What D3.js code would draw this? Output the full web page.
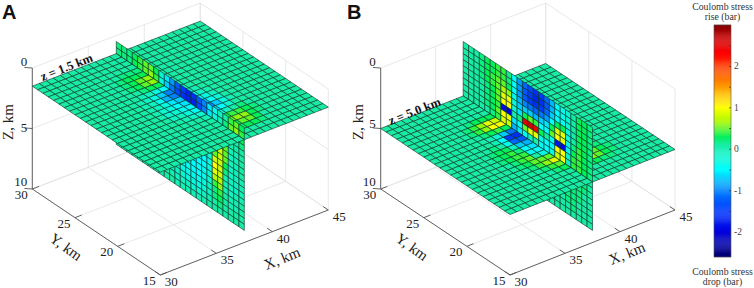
<!DOCTYPE html>
<html>
<head>
<meta charset="utf-8">
<script src="https://cdn.jsdelivr.net/npm/d3@7"></script>
<style>
html,body{margin:0;padding:0;background:#fff}
svg{display:block}
text{font-family:"Liberation Serif",serif;fill:#222}
</style>
</head>
<body>
<div id="chart"></div>
<script>
// ticks
var xTicks = [30, 35, 40, 45];
var yTicks = [30, 25, 20, 15];
var zTicks = [0, 5, 10];
var barLabels = [2, 1, 0, -1, -2];
var barMarks = [2.5, 2, 1.5, 1, 0.5, 0, -0.5, -1, -1.5, -2];

// stress in tenths of a bar.
// horizontal slices: one row per X cell (X = 30 -> 45), one column per Y cell (Y = 30 -> 15)
var sliceA = [
[1,1,1,1,1,1,1,1,1,1,1,1,1,1,1,1,1,1,1,1,1,1,1,1],
[1,1,1,1,1,1,1,1,1,1,1,1,1,1,1,1,1,1,1,1,1,1,1,1],
[1,1,1,1,1,1,1,1,1,1,1,1,1,1,1,1,1,1,1,1,1,1,1,1],
[1,1,1,1,1,1,1,1,1,1,1,1,1,1,1,1,1,1,1,1,1,1,1,1],
[1,1,1,1,1,1,1,1,1,1,1,1,1,1,1,1,1,1,1,1,1,1,1,1],
[1,1,1,1,1,1,1,1,1,1,1,1,1,1,1,1,1,1,1,1,1,1,1,1],
[1,1,1,1,1,1,1,1,1,1,1,1,1,1,1,1,1,1,1,1,1,1,1,1],
[1,1,1,1,1,1,1,1,1,1,0,0,0,0,0,1,1,1,1,1,1,1,1,1],
[1,1,1,1,1,2,2,2,1,0,-1,-1,-1,-2,-2,-1,1,1,1,1,1,1,1,1],
[1,1,1,1,2,3,3,3,2,-1,-3,-4,-3,-3,-2,-1,0,1,1,1,1,1,1,1],
[1,1,1,1,2,3,5,5,3,-3,-7,-8,-6,-5,-4,-3,-1,1,1,1,1,1,1,1],
[1,1,1,1,2,3,6,6,3,-5,-10,-10,-7,-6,-5,-4,-2,0,1,1,1,1,1,1],
[1,1,1,1,1,1,2,3,1,-2,-4,-5,-6,-7,-9,-9,-6,-1,3,3,2,1,1,1],
[1,1,1,1,1,1,1,1,1,1,0,-1,-3,-5,-8,-10,-7,-2,3,5,3,2,1,1],
[1,1,1,1,1,1,1,1,1,1,1,0,-1,-3,-5,-7,-5,-1,4,6,5,3,1,1],
[1,1,1,1,1,1,1,1,1,1,1,1,0,-1,-2,-3,-2,1,4,6,5,3,1,1],
[1,1,1,1,1,1,1,1,1,1,1,1,1,1,1,0,1,2,3,3,3,2,1,1],
[1,1,1,1,1,1,1,1,1,1,1,1,1,1,1,1,1,1,2,2,1,1,1,1],
[1,1,1,1,1,1,1,1,1,1,1,1,1,1,1,1,1,1,1,1,1,1,1,1],
[1,1,1,1,1,1,1,1,1,1,1,1,1,1,1,1,1,1,1,1,1,1,1,1],
[1,1,1,1,1,1,1,1,1,1,1,1,1,1,1,1,1,1,1,1,1,1,1,1],
[1,1,1,1,1,1,1,1,1,1,1,1,1,1,1,1,1,1,1,1,1,1,1,1],
[1,1,1,1,1,1,1,1,1,1,1,1,1,1,1,1,1,1,1,1,1,1,1,1],
[1,1,1,1,1,1,1,1,1,1,1,1,1,1,1,1,1,1,1,1,1,1,1,1]
];
var sliceB = [
[1,1,1,1,1,1,1,1,1,1,1,1,1,1,1,1,1,1,1,1,1,1,1,1],
[1,1,1,1,1,1,1,1,1,1,1,1,1,1,1,1,1,1,1,1,1,1,1,1],
[1,1,1,1,1,1,1,1,1,1,1,1,1,1,1,1,1,1,1,1,1,1,1,1],
[1,1,1,1,1,1,1,1,1,1,1,1,1,1,1,1,1,1,1,1,1,1,1,1],
[1,1,1,1,1,1,1,1,1,1,1,1,1,1,1,1,1,1,1,1,1,1,1,1],
[1,1,1,1,1,1,1,1,1,1,1,1,1,1,1,1,1,1,1,1,1,1,1,1],
[1,1,1,1,1,1,1,1,1,1,1,1,2,2,2,1,1,1,1,1,1,1,1,1],
[1,1,1,1,1,1,2,2,1,1,1,2,3,3,3,2,2,1,1,1,1,1,1,1],
[1,1,1,1,1,2,4,4,2,0,0,1,3,4,4,4,3,2,1,1,1,1,1,1],
[1,1,1,1,1,3,6,6,3,-2,-5,-4,-1,2,4,5,5,4,2,1,1,1,1,1],
[1,1,1,1,1,3,9,10,4,-7,-15,-12,-7,-5,-4,1,5,6,4,2,1,1,1,1],
[1,1,1,1,1,3,8,10,3,-11,-16,-13,-8,-6,-5,-3,5,9,5,3,1,1,1,1],
[1,1,1,1,2,3,5,5,-2,-4,-5,-7,-9,-12,-14,-8,0,4,4,2,1,1,1,1],
[1,1,1,1,1,2,3,3,1,-1,-2,-4,-6,-9,-13,-9,-2,5,7,4,2,1,1,1],
[1,1,1,1,1,1,1,2,2,1,1,-1,-3,-4,-6,-4,-1,5,8,6,3,1,1,1],
[1,1,1,1,1,1,1,1,2,2,2,1,0,-1,-1,-1,0,4,7,6,3,1,1,1],
[1,1,1,1,1,1,1,1,1,1,2,1,1,1,1,1,1,3,5,5,2,1,1,1],
[1,1,1,1,1,1,1,1,1,1,1,1,1,1,1,1,1,2,3,3,2,1,1,1],
[1,1,1,1,1,1,1,1,1,1,1,1,1,1,1,1,1,1,2,2,1,1,1,1],
[1,1,1,1,1,1,1,1,1,1,1,1,1,1,1,1,1,1,1,1,1,1,1,1],
[1,1,1,1,1,1,1,1,1,1,1,1,1,1,1,1,1,1,1,1,1,1,1,1],
[1,1,1,1,1,1,1,1,1,1,1,1,1,1,1,1,1,1,1,1,1,1,1,1],
[1,1,1,1,1,1,1,1,1,1,1,1,1,1,1,1,1,1,1,1,1,1,1,1],
[1,1,1,1,1,1,1,1,1,1,1,1,1,1,1,1,1,1,1,1,1,1,1,1]
];
// vertical sections at X = 37.5: one row per depth cell (Z = 0.5 -> 9), one column per Y cell
var sectionA = [
[2,2,2,3,4,5,5,3,-2,-6,-9,-13,-15,-17,-16,-13,-10,-6,-4,-1,1,4,5,3],
[2,2,2,3,4,5,6,4,-3,-7,-11,-14,-16,-17,-17,-14,-10,-6,-3,0,2,5,6,4],
[1,1,2,3,5,6,7,4,-3,-8,-11,-13,-14,-15,-15,-13,-10,-6,-3,1,2,4,4,3],
[1,1,1,2,4,6,8,4,-3,-7,-9,-10,-11,-11,-11,-10,-8,-5,-2,3,3,1,1,2],
[1,1,1,2,3,5,8,5,-2,-6,-7,-8,-8,-8,-8,-7,-6,-4,-1,5,4,0,1,1],
[1,1,1,1,2,4,7,6,-2,-5,-6,-6,-6,-6,-6,-6,-5,-3,0,7,5,0,0,1],
[1,1,1,1,2,3,6,8,-1,-5,-5,-5,-5,-5,-5,-5,-5,-3,2,8,5,-1,0,1],
[1,1,1,1,1,3,5,8,0,-4,-5,-5,-4,-4,-4,-5,-4,-2,5,8,5,-1,0,1],
[1,1,1,1,1,2,5,9,1,-4,-5,-4,-4,-4,-4,-4,-4,-2,8,8,3,-1,0,1],
[1,1,1,1,1,2,4,8,1,-3,-4,-4,-4,-4,-5,-5,-5,-3,10,8,2,-1,-1,0],
[1,1,1,1,1,2,3,6,1,-2,-3,-4,-4,-5,-5,-5,-5,-3,9,8,0,-1,-1,0],
[1,1,1,1,1,1,2,4,1,-1,-3,-3,-4,-5,-5,-5,-4,-2,7,7,0,-1,-1,0],
[1,1,1,1,1,1,2,3,1,-1,-2,-3,-4,-4,-5,-5,-4,-2,4,6,0,-1,0,0],
[1,1,1,1,1,1,1,2,1,0,-1,-2,-3,-4,-4,-4,-3,-1,2,4,1,0,0,1],
[1,1,1,1,1,1,1,1,1,0,-1,-1,-2,-3,-3,-3,-2,-1,2,3,1,0,0,1],
[1,1,1,1,1,1,1,1,1,1,0,-1,-1,-1,-2,-2,-1,0,1,2,1,1,1,1],
[1,1,1,1,1,1,1,1,1,1,1,0,0,0,0,0,0,1,1,1,1,1,1,1]
];
var sectionB = [
[1,1,1,2,3,3,4,4,2,-5,-9,-12,-14,-16,-15,-12,-8,-5,-4,-2,1,3,3,2],
[1,1,1,2,3,3,4,4,2,-5,-9,-13,-15,-17,-16,-13,-8,-5,-4,-2,1,3,3,2],
[1,1,1,2,3,4,5,5,3,-5,-9,-13,-15,-16,-15,-12,-7,-5,-4,-2,1,3,3,2],
[1,1,1,2,3,4,5,7,6,-4,-8,-10,-11,-12,-11,-9,-5,3,3,-3,1,3,3,2],
[1,1,1,1,2,3,5,9,9,-3,-7,-7,-7,-8,-7,-6,3,9,9,-3,1,3,3,2],
[1,1,1,1,2,3,5,10,10,-2,-6,3,5,4,-5,-5,5,10,9,-3,2,4,3,2],
[1,1,1,1,2,3,4,-19,-20,0,2,25,26,24,3,1,-4,-18,-19,-4,3,4,3,2],
[1,1,1,1,2,3,5,10,9,-6,-4,5,9,9,-3,-5,-5,10,10,-2,4,4,3,2],
[1,1,1,1,1,2,4,9,8,-8,-6,-4,0,1,-4,-5,-3,8,10,-1,4,4,3,2],
[1,1,1,1,1,1,2,5,4,-3,-4,-3,-2,-2,-3,-2,0,2,2,2,3,3,2,1],
[1,1,1,1,1,1,2,3,3,-1,-2,-2,-1,-1,-1,-1,0,1,1,2,3,3,2,1],
[1,1,1,1,1,1,1,2,2,0,-1,-1,-1,0,0,0,1,1,1,2,3,2,2,1],
[1,1,1,1,1,1,1,1,1,1,0,0,0,0,0,1,1,1,1,2,2,2,1,1],
[1,1,1,1,1,1,1,1,1,1,1,1,1,1,1,1,1,1,1,2,2,2,1,1],
[1,1,1,1,1,1,1,1,1,1,1,1,1,1,1,1,1,1,1,2,2,1,1,1],
[1,1,1,1,1,1,1,1,1,1,1,1,1,1,1,1,1,1,1,1,2,1,1,1],
[1,1,1,1,1,1,1,1,1,1,1,1,1,1,1,1,1,1,1,1,1,1,1,1]
];

var width = 754, height = 288;
var svg = d3.select("#chart").append("svg")
  .attr("width", width)
  .attr("height", height);

// colour ramp as it looks on the colour bar
var stressColor = d3.scaleLinear()
  .domain([-2.6, -2, -1.5, -1, -0.5, 0.1, 0.3, 0.65, 1, 1.5, 2.3, 2.6, 3])
  .range(["#00006e", "#0000e0", "#0038ff", "#0082ff", "#00ffff", "#18eca4", "#00f058", "#a8f800", "#ffff00", "#ff9a00", "#ff0000", "#d80000", "#800000"])
  .clamp(true);

var sx = d3.scaleLinear().domain([30, 45]).range([0, 1]);
var sy = d3.scaleLinear().domain([30, 15]).range([0, 1]);
var sz = d3.scaleLinear().domain([0, 10]).range([0, 1]);
// grid cell index -> km
var gridX = d3.scaleLinear().domain([0, 24]).range([30, 45]);
var gridY = d3.scaleLinear().domain([0, 24]).range([30, 15]);
var gridZ = d3.scaleLinear().domain([0, 17]).range([0.5, 9]);
var faultX = 37.5;

var line = d3.line();

function drawPanel(p) {
  var g = svg.append("g");

  var project = function(X, Y, Z) {
    return [
      p.corner[0] + sx(X) * p.vx[0] + sy(Y) * p.vy[0],
      p.corner[1] + sx(X) * p.vx[1] + sy(Y) * p.vy[1] + sz(Z) * p.vz
    ];
  };
  var seg = function(a, b, col, w) {
    g.append("path")
      .attr("d", line([project(a[0], a[1], a[2]), project(b[0], b[1], b[2])]))
      .attr("fill", "none")
      .attr("stroke", col)
      .attr("stroke-width", w);
  };

  // back walls and floor
  var wall = "#e2e2e2";
  zTicks.forEach(function(z) {
    seg([30, 30, z], [45, 30, z], wall, 0.8);
    seg([45, 30, z], [45, 15, z], wall, 0.8);
  });
  xTicks.forEach(function(x) {
    seg([x, 30, 0], [x, 30, 10], wall, 0.8);
    seg([x, 30, 10], [x, 15, 10], wall, 0.8);
  });
  yTicks.forEach(function(y) {
    seg([45, y, 0], [45, y, 10], wall, 0.8);
    seg([30, y, 10], [45, y, 10], wall, 0.8);
  });

  // axes
  var axisCol = "#555";
  seg([30, 30, 0], [30, 30, 10], axisCol, 0.9);
  seg([30, 30, 10], [30, 15, 10], axisCol, 0.9);
  seg([30, 15, 10], [45, 15, 10], axisCol, 0.9);
  zTicks.forEach(function(z) {
    seg([30, 30, z], [29.6, 30.4, z], axisCol, 0.9);
    g.append("text").text(z)
      .attr("x", project(30, 30, z)[0] - 5)
      .attr("y", project(30, 30, z)[1] + p.zLabelDy[z])
      .attr("text-anchor", "end")
      .style("font-size", "13px");
  });
  xTicks.forEach(function(x) {
    seg([x, 15, 10], [x, 15.6, 10], axisCol, 0.9);
    var t = project(x, 15, 10);
    g.append("text").text(x)
      .attr("x", t[0] + 11).attr("y", t[1] + 11)
      .attr("text-anchor", "middle")
      .style("font-size", "13px");
  });
  yTicks.forEach(function(y) {
    seg([30, y, 10], [30.6, y, 10], axisCol, 0.9);
    var t = project(30, y, 10);
    g.append("text").text(y)
      .attr("x", t[0] - 11).attr("y", t[1] + 10)
      .attr("text-anchor", "middle")
      .style("font-size", "13px");
  });

  var cell = function(corners, v) {
    g.append("path")
      .attr("d", line(corners) + "Z")
      .attr("fill", stressColor(v / 10))
      .attr("stroke", "#0b3328")
      .attr("stroke-width", 0.62)
      .attr("stroke-linejoin", "round");
  };
  var drawSlice = function(from, to) {
    d3.range(from, to).forEach(function(i) {
      p.slice[i].forEach(function(v, j) {
        cell([
          project(gridX(i), gridY(j), p.depth),
          project(gridX(i + 1), gridY(j), p.depth),
          project(gridX(i + 1), gridY(j + 1), p.depth),
          project(gridX(i), gridY(j + 1), p.depth)
        ], v);
      });
    });
  };

  // painter's order: slice behind the section, section, slice in front
  drawSlice(12, 24);
  p.section.forEach(function(row, k) {
    row.forEach(function(v, j) {
      cell([
        project(faultX, gridY(j), gridZ(k)),
        project(faultX, gridY(j + 1), gridZ(k)),
        project(faultX, gridY(j + 1), gridZ(k + 1)),
        project(faultX, gridY(j), gridZ(k + 1))
      ], v);
    });
  });
  drawSlice(0, 12);

  // labels
  g.append("text").text(p.letter)
    .attr("x", p.letterX).attr("y", 19)
    .style("font-family", '"Liberation Sans",sans-serif')
    .style("font-weight", "bold")
    .style("font-size", "20px")
    .style("fill", "#111");
  g.append("text").text(p.sliceLabel)
    .attr("text-anchor", "middle")
    .attr("transform", "translate(" + p.sliceLabelAt + ") rotate(-21.5)")
    .style("font-weight", "bold")
    .style("font-size", "12.5px")
    .style("fill", "#111");
  g.append("text").text("Z, km")
    .attr("text-anchor", "middle")
    .attr("transform", "translate(" + p.zTitleAt + ") rotate(-90)")
    .style("font-size", "15px");
  g.append("text").text("Y, km")
    .attr("text-anchor", "middle")
    .attr("transform", "translate(" + p.yTitleAt + ") rotate(36)")
    .style("font-size", "15px");
  g.append("text").text("X, km")
    .attr("text-anchor", "middle")
    .attr("transform", "translate(" + p.xTitleAt + ") rotate(-22)")
    .style("font-size", "15px");
}

drawPanel({
  letter: "A", letterX: 2,
  corner: [32.3, 68], vx: [168, -65], vy: [128, 86], vz: 121,
  slice: sliceA, section: sectionA, depth: 1.5,
  sliceLabel: "z = 1.5 km", sliceLabelAt: [68, 71],
  zLabelDy: {0: -2, 5: 3, 10: -3},
  zTitleAt: [13, 122], yTitleAt: [63, 251], xTitleAt: [284, 263]
});
drawPanel({
  letter: "B", letterX: 347,
  corner: [380.7, 68], vx: [165, -65], vy: [129.3, 86], vz: 121,
  slice: sliceB, section: sectionB, depth: 5,
  sliceLabel: "z = 5.0 km", sliceLabelAt: [416, 115],
  zLabelDy: {0: -2, 5: -1, 10: -3},
  zTitleAt: [363, 122], yTitleAt: [409, 251], xTitleAt: [629, 258]
});

// colour bar
var barY = d3.scaleLinear().domain([3, -2.6]).range([25, 257]);
var barX = 714, barW = 17;
var bar = svg.append("g");
bar.selectAll("rect.ramp")
  .data(d3.range(-2.6, 3, 0.025))
  .enter().append("rect")
  .attr("class", "ramp")
  .attr("x", barX)
  .attr("y", function(d) { return barY(d) - 1.2; })
  .attr("width", barW)
  .attr("height", 1.3)
  .attr("fill", function(d) { return stressColor(d); });
bar.append("rect")
  .attr("x", barX).attr("y", 25)
  .attr("width", barW).attr("height", 232)
  .attr("fill", "none")
  .attr("stroke", "#555")
  .attr("stroke-width", 0.6);
bar.selectAll("line.mark")
  .data(barMarks)
  .enter().append("line")
  .attr("class", "mark")
  .attr("x1", barX + barW - 2).attr("x2", barX + barW)
  .attr("y1", function(d) { return barY(d); })
  .attr("y2", function(d) { return barY(d); })
  .attr("stroke", "#333")
  .attr("stroke-width", 0.7);
bar.selectAll("text.lab")
  .data(barLabels)
  .enter().append("text")
  .attr("class", "lab")
  .text(function(d) { return d; })
  .attr("x", barX + barW + 3)
  .attr("y", function(d) { return barY(d) + 3; })
  .style("font-size", "9.5px")
  .style("fill", "#444");

[["Coulomb stress", 10], ["rise (bar)", 20], ["Coulomb stress", 275], ["drop (bar)", 285]].forEach(function(t) {
  bar.append("text").text(t[0])
    .attr("x", 722.5).attr("y", t[1])
    .attr("text-anchor", "middle")
    .style("font-size", "9.8px")
    .style("fill", "#333");
});
</script>
</body>
</html>
